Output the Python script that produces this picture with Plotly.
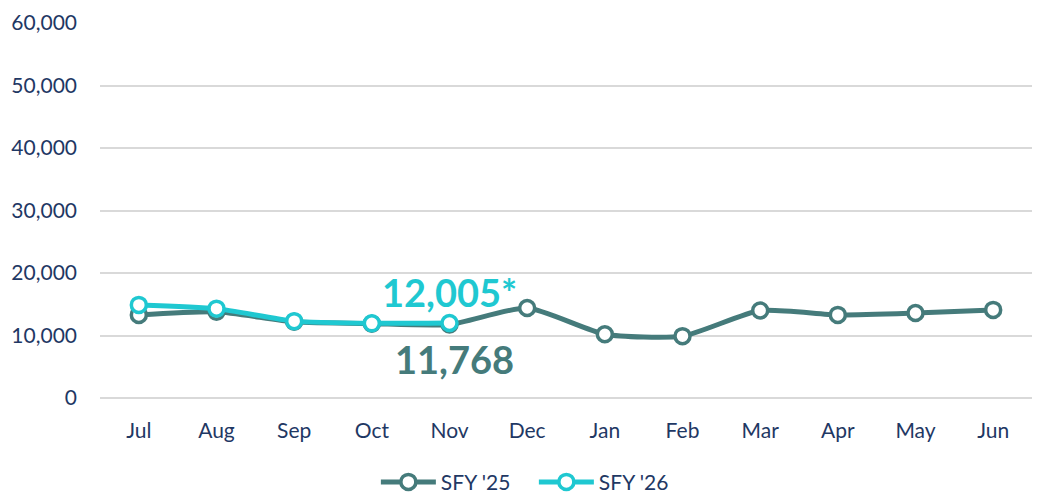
import plotly.graph_objects as go

months = ["Jul", "Aug", "Sep", "Oct", "Nov", "Dec", "Jan", "Feb", "Mar", "Apr", "May", "Jun"]
sfy25 = [13300, 13800, 12200, 11900, 11768, 14400, 10200, 9900, 14000, 13300, 13600, 14100]
sfy26 = [14900, 14300, 12300, 11950, 12005]
ytick_vals = [0, 10000, 20000, 30000, 40000, 50000, 60000]
ytick_text = ["0", "10,000", "20,000", "30,000", "40,000", "50,000", "60,000"]

c25 = "#457B7B"
c26 = "#1FC8D1"
txt = "#1F3864"
font = "Lato, 'Open Sans', sans-serif"

fig = go.Figure()
fig.add_trace(go.Scatter(
    x=months, y=sfy25, name="SFY '25", mode="lines+markers",
    line=dict(color=c25, width=5, shape="spline", smoothing=0.6),
    marker=dict(size=15, color="white", line=dict(color=c25, width=3.5)),
))
fig.add_trace(go.Scatter(
    x=months[:len(sfy26)], y=sfy26, name="SFY '26", mode="lines+markers",
    line=dict(color=c26, width=5, shape="spline", smoothing=0.6),
    marker=dict(size=15, color="white", line=dict(color=c26, width=3.5)),
))

fig.add_annotation(x=months[4], y=sfy26[4], text="<b>12,005*</b>", showarrow=False,
                   font=dict(color=c26, size=38, family=font), xanchor="center", yanchor="bottom",
                   xshift=0, yshift=6)
fig.add_annotation(x=months[4], y=sfy25[4], text="<b>11,768</b>", showarrow=False,
                   font=dict(color=c25, size=38, family=font), xanchor="center", yanchor="top",
                   xshift=5, yshift=-10)

fig.update_layout(
    width=1037, height=498,
    margin=dict(l=100, r=5, t=23, b=100, autoexpand=False),
    plot_bgcolor="white", paper_bgcolor="white",
    font=dict(family=font, color=txt, size=21),
    showlegend=True,
    legend=dict(orientation="h", x=0.296, xanchor="left", y=-0.17, yanchor="top",
                font=dict(size=21, color=txt), itemwidth=55,
                entrywidth=88, entrywidthmode="pixels"),
    xaxis=dict(showgrid=False, showline=False, zeroline=False, ticks="",
               tickfont=dict(size=21, color=txt), range=[-0.5, 11.5],
               ticklabelstandoff=18, automargin=False),
    yaxis=dict(range=[0, 60000], tickvals=ytick_vals, ticktext=ytick_text,
               showgrid=True, gridcolor="#D9D9D9", gridwidth=2,
               zeroline=True, zerolinecolor="#D9D9D9", zerolinewidth=2,
               tickfont=dict(size=21, color=txt), ticklabelstandoff=22, automargin=False),
)

fig.write_html("out.html", config={"displayModeBar": False},
               post_script="document.body.style.margin='0';document.body.style.overflow='hidden';")
